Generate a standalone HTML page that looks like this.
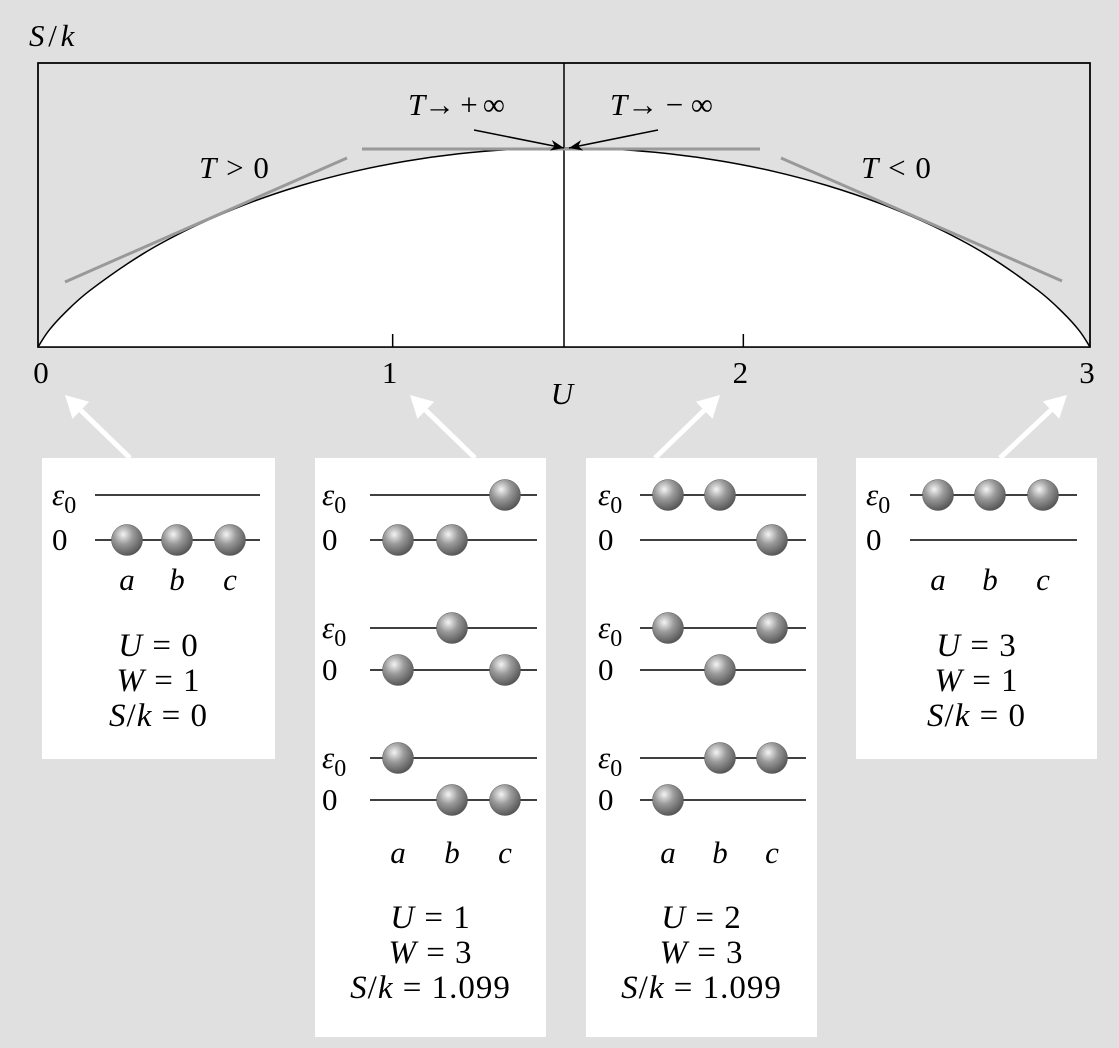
<!DOCTYPE html>
<html><head><meta charset="utf-8"><style>
html,body{margin:0;padding:0;background:#e0e0e0;}
svg{display:block;font-family:"Liberation Serif",serif;}
.it{font-style:italic;}
</style></head><body>
<svg width="1119" height="1048" viewBox="0 0 1119 1048" xmlns="http://www.w3.org/2000/svg">
<defs>
<radialGradient id="ball" cx="0.38" cy="0.32" r="0.7">
<stop offset="0" stop-color="#f4f4f4"/><stop offset="0.45" stop-color="#9a9a9a"/><stop offset="1" stop-color="#555"/>
</radialGradient>
<marker id="ah" viewBox="0 0 10 10" refX="10" refY="5" markerWidth="9" markerHeight="9" orient="auto"><path d="M0,1 L10,5 L0,9 L3,5 z" fill="#000"/></marker>
</defs>
<rect width="1119" height="1048" fill="#e0e0e0"/>
<g id="plot"></g>
<g id="panels"></g>
</svg>
<script>
const uValues=[0,0.03,0.075,0.15,0.3,0.45,0.6,0.75,0.9,1.05,1.2,1.35,1.5,1.65,1.8,1.95,2.1,2.25,2.4,2.55,2.7,2.85,2.925,2.97,3];
const sValues=[0,0.168,0.351,0.596,0.975,1.268,1.501,1.687,1.833,1.942,2.019,2.064,2.079,2.064,2.019,1.942,1.833,1.687,1.501,1.268,0.975,0.596,0.351,0.168,0];
const xTicks=[0,1,2,3];
const xTickLabels=["0","1","2","3"];
const NS="http://www.w3.org/2000/svg";
const X0=38,X1=1090,Y0=347,YTOP=63,SMAX=2.079,PEAKY=148;
const xs=u=>X0+(X1-X0)*u/3;
const ys=s=>Y0-(Y0-PEAKY)*s/SMAX;
function mk(tag,attrs,parent,txt){const e=document.createElementNS(NS,tag);for(const k in attrs)e.setAttribute(k,attrs[k]);if(txt!==undefined)e.textContent=txt;parent.appendChild(e);return e;}
const plot=document.getElementById('plot');
let frame=mk('rect',{x:X0,y:YTOP,width:X1-X0,height:Y0-YTOP,fill:'#e0e0e0',stroke:'#000','stroke-width':1.5},plot);


const pts=uValues.map((u,i)=>[xs(u),ys(sValues[i])]);
let d='M'+pts[0][0]+','+pts[0][1];
for(let i=0;i<pts.length-1;i++){const p0=pts[Math.max(0,i-1)],p1=pts[i],p2=pts[i+1],p3=pts[Math.min(pts.length-1,i+2)];
d+=' C'+(p1[0]+(p2[0]-p0[0])/6)+','+(p1[1]+(p2[1]-p0[1])/6)+' '+(p2[0]-(p3[0]-p1[0])/6)+','+(p2[1]-(p3[1]-p1[1])/6)+' '+p2[0]+','+p2[1];}
let area=mk('path',{d:d+' L'+X1+','+Y0+' L'+X0+','+Y0+' Z',fill:'#fff',stroke:'none'},plot);


let curve=mk('path',{d:d,fill:'none',stroke:'#000','stroke-width':1.5},plot);


mk('rect',{x:X0,y:YTOP,width:X1-X0,height:Y0-YTOP,fill:'none',stroke:'#000','stroke-width':1.5},plot);
let mid=mk('line',{x1:xs(1.5),y1:YTOP,x2:xs(1.5),y2:Y0,stroke:'#000','stroke-width':1.5},plot);


const tangents=[[65,282,347,158],[362,149,760,149],[781,158,1062,281]];
tangents.forEach(t=>{let l=mk('line',{x1:t[0],y1:t[1],x2:t[2],y2:t[3],stroke:'#999','stroke-width':3},plot);

});
xTicks.forEach((v,i)=>{const x=xs(v);
if(i>0&&i<3){let tk=mk('line',{x1:x+4,y1:Y0,x2:x+4,y2:Y0-13,stroke:'#000','stroke-width':1.5},plot);}
let tl=mk('text',{x:x+(i==0?3:i==3?-3:1),y:383,'font-size':31,'text-anchor':'middle'},plot,xTickLabels[i]);

});
function label(x,y,html,name,anchor,extra){const t=mk('text',Object.assign({x:x,y:y,'font-size':31,'text-anchor':anchor||'middle'},extra||{}),plot);t.innerHTML=html;return t;}
label(562,404,'<tspan class="it">U</tspan>','x-axis-title');
label(29,46,'<tspan class="it">S</tspan> / <tspan class="it">k</tspan>','y-axis-title','start',{'word-spacing':-4});
label(234,178,'<tspan class="it">T</tspan> &gt; 0','label-t-positive','middle',{'word-spacing':2});
label(896,178,'<tspan class="it">T</tspan> &lt; 0','label-t-negative','middle',{'word-spacing':2});
label(408,115,'<tspan class="it">T</tspan>→ + ∞','label-t-plus-inf','start',{textLength:97});
label(610,115,'<tspan class="it">T</tspan>→ − ∞','label-t-minus-inf','start',{textLength:103});
let a1=mk('line',{x1:474,y1:130,x2:564,y2:148,stroke:'#000','stroke-width':1.5,'marker-end':'url(#ah)'},plot);

let a2=mk('line',{x1:658,y1:130,x2:569,y2:148,stroke:'#000','stroke-width':1.5,'marker-end':'url(#ah)'},plot);


const P=document.getElementById('panels');
const panels=[
{x:42,w:233,h:301,arrow:[130,458,65,395],lab:52,l0:95,l1:260,bx:[127,177,230],states:[[[],[0,1,2]]],abcY:590,ty:656},
{x:315,w:231,h:579,arrow:[475,458,410,395],lab:322,l0:370,l1:537,bx:[398,452,505],states:[[[2],[0,1]],[[1],[0,2]],[[0],[1,2]]],abcY:863,ty:928},
{x:586,w:231,h:579,arrow:[655,458,720,395],lab:598,l0:640,l1:806,bx:[668,720,772],states:[[[0,1],[2]],[[0,2],[1]],[[1,2],[0]]],abcY:863,ty:928},
{x:856,w:241,h:301,arrow:[1000,458,1067,395],lab:866,l0:910,l1:1077,bx:[938,990,1043],states:[[[0,1,2],[]]],abcY:590,ty:656}];
const panelTexts=[['U = 0','W = 1','S/k = 0'],['U = 1','W = 3','S/k = 1.099'],['U = 2','W = 3','S/k = 1.099'],['U = 3','W = 1','S/k = 0']];
const gy=[[495,540],[628,670],[758,800]];
function fmt(s){return s.replace(/^([USW])/,'<tspan class="it">$1</tspan>').replace('/k','/<tspan class="it">k</tspan>');}
panels.forEach((p,pi)=>{
const g=mk('g',{},P);
const ar=p.arrow;
const ang=Math.atan2(ar[3]-ar[1],ar[2]-ar[0]);const hl=22,hw=12;
const bx=ar[2]-hl*Math.cos(ang),by=ar[3]-hl*Math.sin(ang);
mk('line',{x1:ar[0],y1:ar[1],x2:bx,y2:by,stroke:'#fff','stroke-width':5},g);
let ah=mk('polygon',{points:ar[2]+','+ar[3]+' '+(bx+hw*Math.sin(ang))+','+(by-hw*Math.cos(ang))+' '+(bx-hw*Math.sin(ang))+','+(by+hw*Math.cos(ang)),fill:'#fff'},g);

mk('rect',{x:p.x,y:458,width:p.w,height:p.h,fill:'#fff'},g);
p.states.forEach((st,si)=>{
[0,1].forEach(lv=>{const y=gy[si][lv];
mk('line',{x1:p.l0,y1:y,x2:p.l1,y2:y,stroke:'#000','stroke-width':1.5},g);
const t=mk('text',{x:p.lab,y:y+10,'font-size':31},g);
t.innerHTML=lv==0?'<tspan class="it">ε</tspan><tspan font-size="24" dy="8">0</tspan>':'0';

st[lv].forEach(b=>{let c=mk('circle',{cx:p.bx[b],cy:y,r:15.5,fill:'url(#ball)',stroke:'#555','stroke-width':0.5},g);
});});});
['a','b','c'].forEach((s,i)=>{let t=mk('text',{x:p.bx[i],y:p.abcY,'font-size':31,'text-anchor':'middle','font-style':'italic'},g,s);
});
const cx=p.x+p.w/2;
panelTexts[pi].forEach((s,i)=>{let t=mk('text',{x:cx,y:p.ty+i*35,'font-size':33,'text-anchor':'middle','letter-spacing':1},g);t.innerHTML=fmt(s);
});
});
</script>
</body></html>
